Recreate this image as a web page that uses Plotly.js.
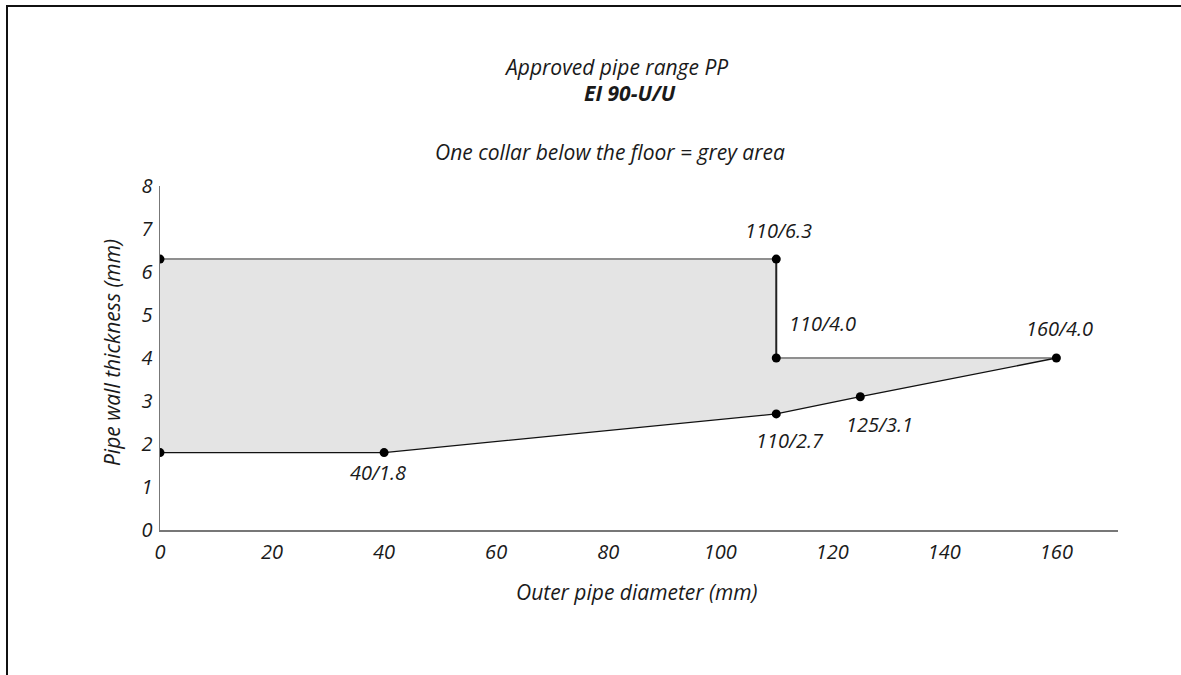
<!DOCTYPE html>
<html>
<head>
<meta charset="utf-8">
<script src="https://cdn.plot.ly/plotly-3.0.1.min.js"></script>
<style>
  html, body { margin: 0; padding: 0; background: #fff; }
  #wrap { position: relative; width: 1181px; height: 675px; overflow: hidden; }
  #chart { position: absolute; left: 0; top: 0; width: 1181px; height: 675px; }
  #frameL { position: absolute; left: 6px; top: 5px; width: 2px; height: 670px; background: #111; }
  #frameT { position: absolute; left: 6px; top: 5px; width: 1175px; height: 2px; background: #111; }
</style>
</head>
<body>
<div id="wrap">
  <div id="chart"></div>
  <div id="frameL"></div>
  <div id="frameT"></div>
</div>
<script>
// Boundary points (outer pipe diameter mm, wall thickness mm)
const areaX = [0, 0, 110, 110, 160, 125, 110, 40, 0];
const areaY = [1.8, 6.3, 6.3, 4.0, 4.0, 3.1, 2.7, 1.8, 1.8];

const topEdgeX = [0, 110];
const topEdgeY = [6.3, 6.3];
const stepX = [110, 110];
const stepY = [6.3, 4.0];
const midEdgeX = [110, 160];
const midEdgeY = [4.0, 4.0];
const lowerX = [0, 40, 110, 125, 160];
const lowerY = [1.8, 1.8, 2.7, 3.1, 4.0];

const pointX = [0, 0, 40, 110, 110, 110, 125, 160];
const pointY = [6.3, 1.8, 1.8, 6.3, 4.0, 2.7, 3.1, 4.0];

const labelX = [110, 110, 160, 125, 110, 40];
const labelY = [6.3, 4.0, 4.0, 3.1, 2.7, 1.8];
const labelText = ["110/6.3", "110/4.0", "160/4.0", "125/3.1", "110/2.7", "40/1.8"];

const xTicks = [0, 20, 40, 60, 80, 100, 120, 140, 160];
const yTicks = [0, 1, 2, 3, 4, 5, 6, 7, 8];

const FONT = "Open Sans, Noto Sans, sans-serif";
const italic = (size, color) => ({ family: FONT, size: size, color: color || "#1a1a1a", style: "italic" });

const traces = [
  { x: areaX, y: areaY, mode: "lines", fill: "toself", fillcolor: "#e4e4e4",
    line: { width: 0, color: "rgba(0,0,0,0)" }, hoverinfo: "skip", showlegend: false },
  { x: topEdgeX, y: topEdgeY, mode: "lines", line: { color: "#8f8f8f", width: 2 }, showlegend: false },
  { x: midEdgeX, y: midEdgeY, mode: "lines", line: { color: "#8f8f8f", width: 2 }, showlegend: false },
  { x: stepX, y: stepY, mode: "lines", line: { color: "#222", width: 2 }, showlegend: false },
  { x: lowerX, y: lowerY, mode: "lines", line: { color: "#111", width: 1.3 }, showlegend: false },
  { x: pointX, y: pointY, mode: "markers", marker: { color: "#000", size: 9 }, showlegend: false }
];

// label offsets (pixels) relative to their point
const shifts = [[2, 29, "center"], [11, 35, "left"], [3, 30, "center"], [19, -28, "center"], [14, -27, "center"], [-6, -20, "center"]];

const annotations = labelText.map((t, i) => ({
  x: labelX[i], y: labelY[i], xref: "x", yref: "y", text: t, showarrow: false,
  xanchor: shifts[i][2], yanchor: "middle", xshift: shifts[i][0], yshift: shifts[i][1],
  font: italic(20)
}));

annotations.push(
  { xref: "paper", yref: "paper", x: 0.476, y: 1, yshift: 119, text: "Approved pipe range PP",
    showarrow: false, xanchor: "center", yanchor: "middle", font: italic(21) },
  { xref: "paper", yref: "paper", x: 0.4906, y: 1, yshift: 93, text: "<b>EI 90-U/U</b>",
    showarrow: false, xanchor: "center", yanchor: "middle", font: italic(21) },
  { xref: "paper", yref: "paper", x: 0.4697, y: 1, yshift: 34, text: "One collar below the floor = grey area",
    showarrow: false, xanchor: "center", yanchor: "middle", font: italic(21) },
  { xref: "paper", yref: "paper", x: 0.498, y: 0, yshift: -62, text: "Outer pipe diameter (mm)",
    showarrow: false, xanchor: "center", yanchor: "middle", font: italic(21) },
  { xref: "paper", yref: "paper", x: 0, y: 0.5145, xshift: -48, text: "Pipe wall thickness (mm)",
    textangle: -90, showarrow: false, xanchor: "center", yanchor: "middle", font: italic(21) }
);

const layout = {
  width: 1181, height: 675,
  margin: { l: 160, r: 63, t: 186, b: 145 },
  paper_bgcolor: "#fff", plot_bgcolor: "#fff",
  showlegend: false,
  xaxis: {
    range: [0, 171], tickvals: xTicks, ticktext: xTicks.map(String),
    showgrid: false, zeroline: false, showline: true, linecolor: "#777", linewidth: 1.5,
    ticks: "", tickfont: italic(20), ticklabelstandoff: 3
  },
  yaxis: {
    range: [0, 8], tickvals: yTicks, ticktext: yTicks.map(String),
    showgrid: false, zeroline: false, showline: true, linecolor: "#777", linewidth: 1.5,
    ticks: "", tickfont: italic(20), ticklabelstandoff: 2
  },
  annotations: annotations
};

Plotly.newPlot("chart", traces, layout, { displayModeBar: false, staticPlot: true });
</script>
</body>
</html>
